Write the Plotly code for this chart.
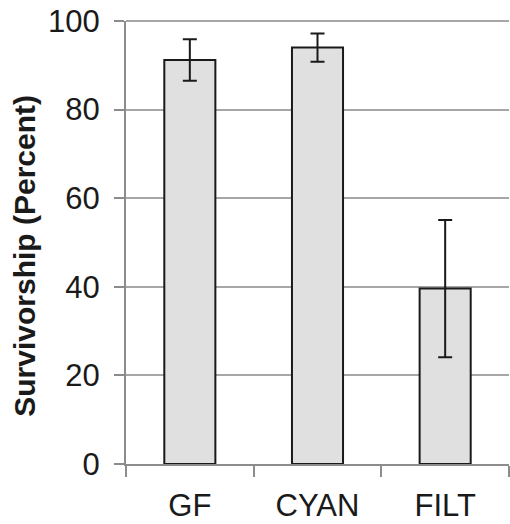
import plotly.graph_objects as go

categories = ["GF", "CYAN", "FILT"]
survivorship = [91.2, 94.0, 39.6]
errors = [4.7, 3.2, 15.5]
y_ticks = [0, 20, 40, 60, 80, 100]

FONT = "Liberation Sans, Arial, sans-serif"
GRID = "#a6a6a6"

fig = go.Figure()
fig.add_trace(go.Bar(
    x=categories,
    y=survivorship,
    width=0.4,
    marker=dict(color="#dfe0df", line=dict(color="#1a1a1a", width=2)),
    error_y=dict(type="data", array=errors, visible=True,
                 color="#1a1a1a", thickness=2, width=7),
))

fig.update_layout(
    width=510, height=524,
    margin=dict(l=126, r=1, t=21, b=60),
    paper_bgcolor="white", plot_bgcolor="white",
    showlegend=False,
    font=dict(family=FONT, size=31, color="#1a1a1a"),
    xaxis=dict(
        type="category", range=[-0.5, 2.5],
        tickson="boundaries", ticks="outside", ticklen=11, tickwidth=2,
        tickcolor="#8c8c8c", showline=True, linecolor="#8c8c8c", linewidth=2,
        showgrid=False, tickfont=dict(size=31, family=FONT, color="#1a1a1a"),
        ticklabelstandoff=13,
    ),
    yaxis=dict(
        range=[0, 100], tickvals=y_ticks,
        ticks="outside", ticklen=10, tickwidth=2, tickcolor="#8c8c8c",
        showline=True, linecolor="#8c8c8c", linewidth=2,
        showgrid=True, gridcolor=GRID, gridwidth=2,
        zeroline=False,
        tickfont=dict(size=31, family=FONT, color="#1a1a1a"),
        ticklabelstandoff=8,
        ticklabeloverflow="allow",
    ),
    # top gridline (the one at the upper range edge), drawn unclipped
    shapes=[dict(
        type="line", xref="paper", yref="paper",
        x0=0, x1=1, y0=1, y1=1,
        line=dict(color=GRID, width=2), layer="below",
    )],
    annotations=[dict(
        text="<b>Survivorship (Percent)</b>", textangle=-90,
        xref="paper", yref="paper", x=-0.2656, y=0.4707,
        xanchor="center", yanchor="middle", showarrow=False,
        font=dict(family=FONT, size=30, color="#1a1a1a"),
    )],
)

fig.write_html("out.html",
               config={"displayModeBar": False},
               post_script="document.body.style.margin='0';")
